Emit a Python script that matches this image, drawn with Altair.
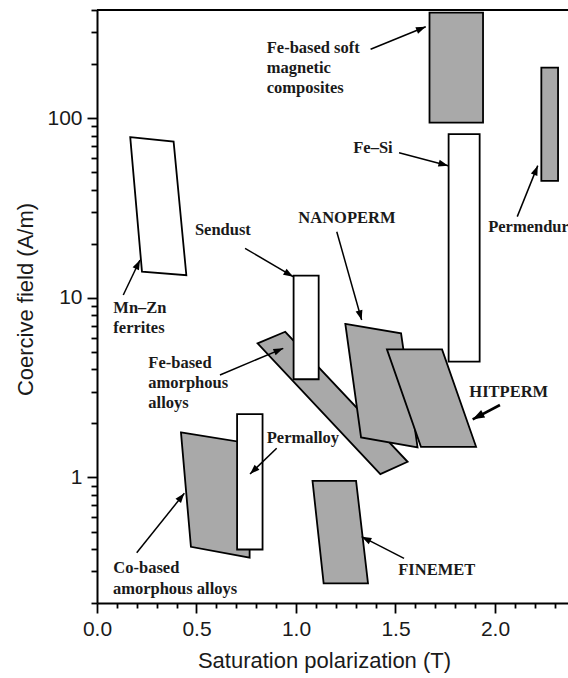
import math
import altair as alt
import pandas as pd

# ---- plot frame ----
W, H = 471, 593
X_MAX = 2.367
Y_MIN, Y_MAX = 0.2, 400

GRAY = "#a9a9a9"
WHITE = "#ffffff"

# ---- material regions: (name, fill, x vertices, y vertices), drawn in this order ----
fe_amorph_x = [0.807, 0.946, 1.561, 1.424]
fe_amorph_y = [5.58, 6.47, 1.222, 1.043]

nanoperm_x = [1.248, 1.528, 1.611, 1.327]
nanoperm_y = [7.15, 6.34, 1.469, 1.671]

hitperm_x = [1.457, 1.734, 1.905, 1.628]
hitperm_y = [5.16, 5.16, 1.481, 1.481]

sendust_x = [0.988, 1.114, 1.114, 0.988]
sendust_y = [13.3, 13.3, 3.52, 3.52]

mnzn_x = [0.167, 0.385, 0.449, 0.226]
mnzn_y = [78.4, 74.1, 13.35, 13.98]

co_amorph_x = [0.422, 0.767, 0.767, 0.472]
co_amorph_y = [1.78, 1.547, 0.358, 0.411]

permalloy_x = [0.704, 0.832, 0.832, 0.704]
permalloy_y = [2.25, 2.25, 0.397, 0.397]

finemet_x = [1.083, 1.302, 1.362, 1.139]
finemet_y = [0.957, 0.957, 0.257, 0.257]

fesi_x = [1.767, 1.923, 1.923, 1.767]
fesi_y = [81.5, 81.5, 4.41, 4.41]

smc_x = [1.671, 1.940, 1.940, 1.671]
smc_y = [387, 387, 94.5, 94.5]

permendur_x = [2.233, 2.317, 2.317, 2.233]
permendur_y = [191, 191, 44.7, 44.7]

regions = [
    ("Fe-based amorphous alloys", GRAY, fe_amorph_x, fe_amorph_y),
    ("NANOPERM", GRAY, nanoperm_x, nanoperm_y),
    ("HITPERM", GRAY, hitperm_x, hitperm_y),
    ("Sendust", WHITE, sendust_x, sendust_y),
    ("Mn-Zn ferrites", WHITE, mnzn_x, mnzn_y),
    ("Co-based amorphous alloys", GRAY, co_amorph_x, co_amorph_y),
    ("Permalloy", WHITE, permalloy_x, permalloy_y),
    ("FINEMET", GRAY, finemet_x, finemet_y),
    ("Fe-Si", WHITE, fesi_x, fesi_y),
    ("Fe-based SMC", GRAY, smc_x, smc_y),
    ("Permendur", GRAY, permendur_x, permendur_y),
]

# ---- annotation text lines ----
label_text = ["Fe-based soft", "magnetic", "composites", "Fe\u2013Si", "Permendur",
              "NANOPERM", "Sendust", "Mn\u2013Zn", "ferrites", "Fe-based", "amorphous",
              "alloys", "Permalloy", "HITPERM", "Co-based", "amorphous alloys", "FINEMET"]
label_x = [0.853, 0.853, 0.853, 1.288, 1.966,
           1.012, 0.492, 0.082, 0.082, 0.258, 0.258,
           0.258, 0.853, 1.871, 0.082, 0.080, 1.514]
label_y = [245.8, 190.2, 147.2, 68.2, 24.9,
           27.7, 23.8, 8.74, 6.77, 4.35, 3.34,
           2.585, 1.651, 3.00, 0.312, 0.2393, 0.3052]

# ---- arrows: tail -> head ----
arrow_x0 = [1.375, 1.518, 2.112, 1.205, 0.744, 0.132, 0.618, 0.903, 0.1995, 2.025, 1.543]
arrow_y0 = [241.7, 64.2, 28.3, 23.3, 18.86, 10.36, 3.72, 1.453, 0.3812, 2.531, 0.3546]
arrow_x1 = [1.652, 1.765, 2.215, 1.330, 0.986, 0.216, 0.936, 0.769, 0.439, 1.888, 1.330]
arrow_y1 = [322.9, 54.4, 54.4, 7.52, 13.11, 16.23, 5.23, 1.045, 0.816, 2.107, 0.468]
arrow_w = [1.5, 1.5, 1.5, 1.5, 1.5, 1.5, 1.5, 1.5, 1.5, 2.6, 1.5]

# ---- scales and axes shared by every layer ----
x_values = [round(i * 0.1, 1) for i in range(24)]
y_values = [0.2, 0.3, 0.4, 0.5, 0.6, 0.7, 0.8, 0.9,
            1, 2, 3, 4, 5, 6, 7, 8, 9,
            10, 20, 30, 40, 50, 60, 70, 80, 90,
            100, 200, 300, 400]

x_is_major = "abs(datum.value * 2 - round(datum.value * 2)) < 1e-6"
y_is_major = "datum.value == 1 || datum.value == 10 || datum.value == 100"

x_scale = alt.Scale(domain=[0, X_MAX], nice=False, zero=False)
y_scale = alt.Scale(type="log", domain=[Y_MIN, Y_MAX], nice=False)

x_axis = alt.Axis(
    values=x_values,
    labelExpr=f"({x_is_major}) ? format(datum.value, '.1f') : ''",
    tickSize={"condition": {"test": x_is_major, "value": 10}, "value": 5},
    grid=False, labelFlush=False,
    title="Saturation polarization (T)",
    titleX=227, titleY=57, titleAlign="center", titleBaseline="middle",
)
y_axis = alt.Axis(
    values=y_values,
    labelExpr=f"({y_is_major}) ? format(datum.value, 'd') : ''",
    tickSize={"condition": {"test": y_is_major, "value": 10}, "value": 6},
    grid=False, labelFlush=False,
    title="Coercive field (A/m)",
    titleX=-72, titleY=289, titleAngle=270, titleAlign="center", titleBaseline="middle",
)


def X(field):
    return alt.X(field, type="quantitative", scale=x_scale, axis=x_axis)


def Y(field):
    return alt.Y(field, type="quantitative", scale=y_scale, axis=y_axis)


layers = []

# filled regions
for name, fill, xs, ys in regions:
    df = pd.DataFrame({"x": xs, "y": ys, "i": range(len(xs)), "name": name})
    layers.append(
        alt.Chart(df).mark_line(
            interpolate="linear-closed", fill=fill, stroke="black",
            strokeWidth=1.8, strokeJoin="miter",
        ).encode(x=X("x"), y=Y("y"), order=alt.Order("i:Q"))
    )

# arrow shafts and heads
lx0, lx1 = 0.0, math.log10(Y_MAX)
ly0 = math.log10(Y_MIN)


def to_px(x, y):
    return x / X_MAX * W, (lx1 - math.log10(y)) / (lx1 - ly0) * H


angles = []
for a, b, c, d in zip(arrow_x0, arrow_y0, arrow_x1, arrow_y1):
    p0, p1 = to_px(a, b), to_px(c, d)
    dx, dy = p1[0] - p0[0], p1[1] - p0[1]
    angles.append(math.degrees(math.atan2(dx, -dy)) % 360)

arrows = pd.DataFrame({
    "x0": arrow_x0, "y0": arrow_y0, "x1": arrow_x1, "y1": arrow_y1,
    "w": arrow_w, "angle": angles,
    "head": [560 if w > 2 else 380 for w in arrow_w],
})

layers.append(
    alt.Chart(arrows).mark_rule(color="black", strokeCap="butt").encode(
        x=X("x0"), y=Y("y0"), x2="x1", y2="y1",
        strokeWidth=alt.StrokeWidth("w:Q", scale=None),
    )
)
layers.append(
    alt.Chart(arrows).mark_point(
        shape="M0,0L0.36,1L-0.36,1Z", filled=True, fill="black",
        strokeWidth=0, opacity=1,
    ).encode(
        x=X("x1"), y=Y("y1"),
        angle=alt.Angle("angle:Q", scale=None),
        size=alt.Size("head:Q", scale=None),
    )
)

# annotation labels
labels = pd.DataFrame({"t": label_text, "x": label_x, "y": label_y})
layers.append(
    alt.Chart(labels).mark_text(
        align="left", baseline="middle", font="Liberation Serif",
        fontWeight="bold", fontSize=16.5, color="#1a1a1a",
    ).encode(x=X("x"), y=Y("y"), text="t:N")
)

# top frame line
layers.append(
    alt.Chart(pd.DataFrame({"k": [0]})).mark_rule(color="black", strokeWidth=2).encode(
        x=alt.value(0), x2=alt.value(W), y=alt.value(0)
    )
)

chart = alt.layer(*layers).properties(
    width=W, height=H,
    padding={"left": 97, "top": 10, "right": 0, "bottom": 75},
    autosize=alt.AutoSizeParams(type="none"),
).configure_view(strokeWidth=0).configure_axis(
    domainColor="black", domainWidth=2, tickColor="black", tickWidth=1.8,
    labelFont="Liberation Sans", labelFontSize=21, labelColor="#1a1a1a",
    labelPadding=5,
    titleFont="Liberation Sans", titleFontSize=22, titleFontWeight="normal",
    titleColor="#1a1a1a",
)

chart.save("out.html", embed_options={"renderer": "svg", "actions": False})
